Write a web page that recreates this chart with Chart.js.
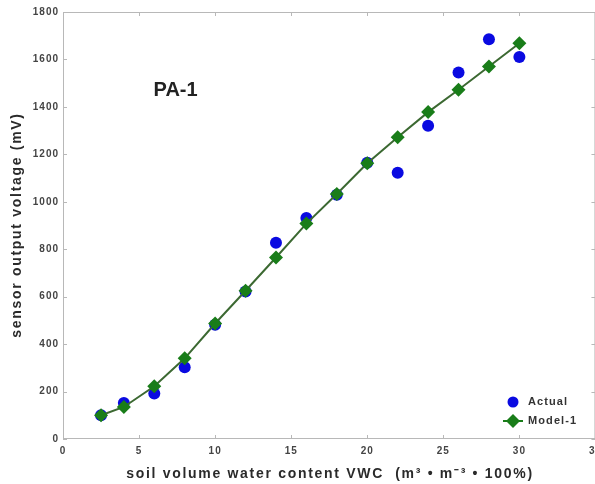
<!DOCTYPE html>
<meta charset="utf-8">
<style>
html, body {
  margin: 0;
  background: #fff;
}

.chart-wrap {
  width: 595px;
  height: 484px;
  position: relative;
  overflow: hidden;
}
</style>
<body>

<div class="chart-wrap"><canvas id="chart" width="607" height="484"></canvas></div>

<script src="https://cdn.jsdelivr.net/npm/chart.js@4/dist/chart.umd.min.js"></script>
<script type="text/javascript">
"use strict";

// soil water content (x) and sensor voltage readings (y)
var vwc = [2.5, 4, 6, 8, 10, 12, 14, 16, 18, 20, 22, 24, 26, 28, 30];
var actualMv = [100, 152, 192, 302, 482, 622, 827, 932, 1030, 1165, 1122, 1320, 1545, 1685, 1610];
var modelMv = [100, 135, 222, 340, 487, 625, 765, 908, 1033, 1162, 1272, 1378, 1472, 1570, 1668];

var seriesNames = ["Actual", "Model-1"];
var panelLabel = "PA-1";
var xTitle = "soil volume water content VWC  (m\u00b3 \u2022 m\u207b\u00b3 \u2022 100%)";
var yTitle = "sensor output voltage (mV)";

var FONT = "'Liberation Sans', Arial, sans-serif";
var BLUE = "rgb(10, 10, 225)";
var GREEN = "rgb(25, 125, 25)";

function toPoints(xs, ys) {
  return xs.map(function (x, i) { return { x: x, y: ys[i] }; });
}

// the source renders its text rather wide, so spread the letters a bit
var spacing = {
  id: "spacing",
  beforeDraw: function (chart) {
    chart.ctx.letterSpacing = "1px";
  }
};

// box frame, inward ticks, axis titles, panel label and the legend
var decorations = {
  id: "decorations",
  afterDatasetsDraw: function (chart) {
    var ctx = chart.ctx;
    var area = chart.chartArea;
    var xs = chart.scales.x, ys = chart.scales.y;

    ctx.save();
    ctx.strokeStyle = "#b8b8b8";
    ctx.lineWidth = 1;
    ctx.strokeRect(area.left + 0.5, area.top + 0.5, area.right - area.left - 1, area.bottom - area.top - 1);

    ctx.beginPath();
    xs.ticks.forEach(function (t) {
      var px = Math.round(xs.getPixelForValue(t.value)) + 0.5;
      ctx.moveTo(px, area.bottom); ctx.lineTo(px, area.bottom - 4);
      ctx.moveTo(px, area.top); ctx.lineTo(px, area.top + 4);
    });
    ys.ticks.forEach(function (t) {
      var py = Math.round(ys.getPixelForValue(t.value)) + 0.5;
      ctx.moveTo(area.left, py); ctx.lineTo(area.left + 4, py);
      ctx.moveTo(area.right, py); ctx.lineTo(area.right - 4, py);
    });
    ctx.stroke();

    ctx.textAlign = "center";
    ctx.textBaseline = "middle";

    ctx.fillStyle = "#222";
    ctx.letterSpacing = "0px";
    ctx.font = "bold 20px " + FONT;
    ctx.fillText(panelLabel, xs.getPixelForValue(7.4), ys.getPixelForValue(1468));

    // axis titles
    ctx.fillStyle = "#2a2a2a";
    ctx.letterSpacing = "1.7px";
    ctx.font = "bold 14px " + FONT;
    ctx.fillText(xTitle, 330, 474);
    ctx.save();
    ctx.translate(17, 225);
    ctx.rotate(-Math.PI / 2);
    ctx.fillText(yTitle, 0, 0);
    ctx.restore();

    // legend
    var lx = 513, ly = 402;
    ctx.fillStyle = BLUE;
    ctx.beginPath();
    ctx.arc(lx, ly, 5.5, 0, Math.PI * 2);
    ctx.fill();

    ctx.strokeStyle = GREEN;
    ctx.lineWidth = 2;
    ctx.beginPath();
    ctx.moveTo(lx - 10, ly + 19); ctx.lineTo(lx + 10, ly + 19);
    ctx.stroke();
    ctx.fillStyle = GREEN;
    ctx.beginPath();
    ctx.moveTo(lx, ly + 12); ctx.lineTo(lx + 7, ly + 19);
    ctx.lineTo(lx, ly + 26); ctx.lineTo(lx - 7, ly + 19);
    ctx.closePath();
    ctx.fill();

    ctx.fillStyle = "#333";
    ctx.letterSpacing = "1.1px";
    ctx.font = "bold 11px " + FONT;
    ctx.textAlign = "left";
    ctx.fillText(seriesNames[0], lx + 15, ly);
    ctx.fillText(seriesNames[1], lx + 15, ly + 19);
    ctx.restore();
  }
};

var chart = new Chart(document.getElementById("chart"), {
  type: "scatter",
  data: {
    datasets: [
      {
        label: seriesNames[0],
        data: toPoints(vwc, actualMv),
        backgroundColor: BLUE,
        borderColor: BLUE,
        pointRadius: 6,
        pointBorderWidth: 0,
        showLine: false,
        order: 1
      },
      {
        label: seriesNames[1],
        data: toPoints(vwc, modelMv),
        backgroundColor: GREEN,
        borderColor: "rgb(60, 105, 50)",
        borderWidth: 2,
        pointStyle: "rectRot",
        pointRadius: 7,
        pointBorderWidth: 0,
        pointBackgroundColor: GREEN,
        showLine: true,
        order: 0
      }
    ]
  },
  options: {
    responsive: false,
    animation: false,
    layout: { padding: { top: 12, right: 0, bottom: 0, left: 0 } },
    plugins: {
      legend: { display: false },
      tooltip: { enabled: false }
    },
    scales: {
      x: {
        type: "linear",
        min: 0,
        max: 35,
        grid: { display: false, drawTicks: false },
        border: { display: false },
        ticks: {
          stepSize: 5,
          padding: 6,
          maxRotation: 0,
          color: "#444",
          font: { family: FONT, size: 10, weight: "bold" }
        },
        title: { display: false },
        afterFit: function (scale) {
          scale.height = 45;
        }
      },
      y: {
        type: "linear",
        min: 0,
        max: 1800,
        grid: { display: false, drawTicks: false },
        border: { display: false },
        ticks: {
          stepSize: 200,
          padding: 4,
          color: "#444",
          font: { family: FONT, size: 10, weight: "bold" },
          callback: function (value) { return String(value); }
        },
        title: { display: false },
        afterFit: function (scale) {
          scale.width = 63;
        }
      }
    }
  },
  plugins: [spacing, decorations]
});
</script>
</body>
